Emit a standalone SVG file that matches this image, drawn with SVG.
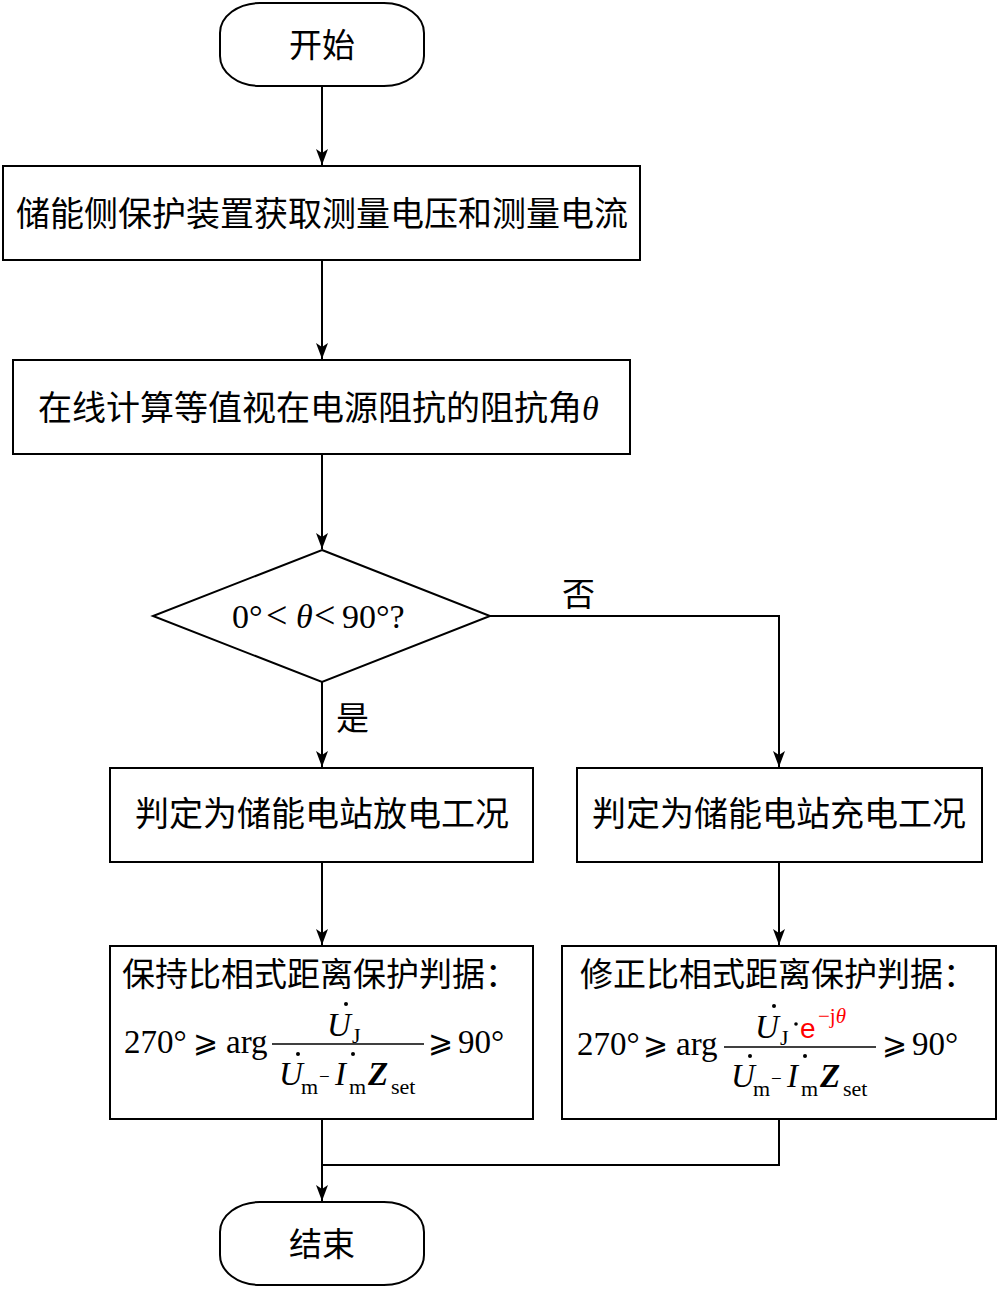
<svg xmlns="http://www.w3.org/2000/svg" width="1001" height="1289" viewBox="0 0 1001 1289">
<style>
.box{fill:#fff;stroke:#000;stroke-width:2}
.cn{font-family:"Noto Sans CJK SC","Noto Sans",sans-serif;font-size:34px;fill:#000}
.cn33{font-family:"Noto Sans CJK SC","Noto Sans",sans-serif;font-size:33px;fill:#000}
.m{font-family:"Liberation Serif","Times New Roman",serif;font-size:33px;fill:#000}
.v{font-size:33px}
.sub{font-size:22px}
.mi{font-size:19px}
.it{font-style:italic}
.bi{font-style:italic;font-weight:bold}
.ge{font-family:"DejaVu Sans",sans-serif;font-size:30px;fill:#000}
.line{fill:none;stroke:#000;stroke-width:2}
.red{fill:#FF0000}
.dot{fill:#000}
</style>
<defs>
<marker id="arr" markerUnits="userSpaceOnUse" viewBox="0 0 16 12" refX="16" refY="6" markerWidth="16" markerHeight="12" orient="auto">
<path d="M0,0 L16,6 L0,12 L4,6 z" fill="#000"/>
</marker>
</defs>
<g id="connectors">
<line class="line" x1="322" y1="86" x2="322" y2="165" marker-end="url(#arr)"/>
<line class="line" x1="322" y1="260" x2="322" y2="359" marker-end="url(#arr)"/>
<line class="line" x1="322" y1="454" x2="322" y2="549" marker-end="url(#arr)"/>
<line class="line" x1="322" y1="682" x2="322" y2="767" marker-end="url(#arr)"/>
<polyline class="line" points="490,616 779,616 779,767" marker-end="url(#arr)"/>
<line class="line" x1="322" y1="862" x2="322" y2="945" marker-end="url(#arr)"/>
<line class="line" x1="779" y1="862" x2="779" y2="945" marker-end="url(#arr)"/>
<line class="line" x1="322" y1="1119" x2="322" y2="1201" marker-end="url(#arr)"/>
<polyline class="line" points="779,1119 779,1165 322,1165"/>
<text class="cn33" x="562" y="606">否</text>
<text class="cn33" x="336" y="730">是</text>
</g>
<g id="start">
<rect class="box" x="220" y="3" width="204" height="83" rx="40" ry="30"/>
<text class="cn33" x="322" y="57" text-anchor="middle">开始</text>
</g>
<g id="step1">
<rect class="box" x="3" y="166" width="637" height="94"/>
<text class="cn" x="322" y="226" text-anchor="middle">储能侧保护装置获取测量电压和测量电流</text>
</g>
<g id="step2">
<rect class="box" x="13" y="360" width="617" height="94"/>
<text class="cn" x="38" y="420">在线计算等值视在电源阻抗的阻抗角<tspan class="m it" style="font-size:34px">θ</tspan></text>
</g>
<g id="decision">
<polygon class="box" points="322,550 490,616 322,682 153,616"/>
<text class="m" y="628" style="font-size:34px"><tspan x="232">0°</tspan><tspan x="266" style="font-size:38px">&lt;</tspan><tspan x="296" class="it">θ</tspan><tspan x="314" style="font-size:38px">&lt;</tspan><tspan x="342">90°?</tspan></text>
</g>
<g id="discharge">
<rect class="box" x="110" y="768" width="423" height="94"/>
<text class="cn" x="322" y="826" text-anchor="middle">判定为储能电站放电工况</text>
</g>
<g id="charge">
<rect class="box" x="577" y="768" width="405" height="94"/>
<text class="cn" x="779" y="826" text-anchor="middle">判定为储能电站充电工况</text>
</g>
<g id="keep">
<rect class="box" x="110" y="946" width="423" height="173"/>
<text class="cn33" x="122" y="986">保持比相式距离保护判据：</text>
<text class="m" x="124" y="1053">270°</text>
<text class="ge" x="193" y="1052">⩾</text>
<text class="m" x="226" y="1053">arg</text>
<line x1="272" y1="1044" x2="424" y2="1044" stroke="#000" stroke-width="1.5"/>
<text class="m it v" x="327" y="1036">U</text>
<text class="m sub" x="352" y="1043">J</text>
<circle class="dot" cx="346" cy="1004" r="2"/>
<text class="m it v" x="279" y="1085">U</text>
<circle class="dot" cx="298" cy="1054" r="2"/>
<text class="m sub" x="301" y="1094">m</text>
<text class="m mi" x="319" y="1083">−</text>
<text class="m it v" x="335" y="1085">I</text>
<circle class="dot" cx="353" cy="1054" r="2"/>
<text class="m sub" x="349" y="1094">m</text>
<text class="m bi v" x="368" y="1085">Z</text>
<text class="m sub" x="391" y="1094">set</text>
<text class="ge" x="428" y="1052">⩾</text>
<text class="m" x="458" y="1053">90°</text>
</g>
<g id="modify">
<rect class="box" x="562" y="946" width="434" height="173"/>
<text class="cn33" x="580" y="986">修正比相式距离保护判据：</text>
<text class="m" x="577" y="1055">270°</text>
<text class="ge" x="643" y="1054">⩾</text>
<text class="m" x="676" y="1055">arg</text>
<line x1="724" y1="1047" x2="876" y2="1047" stroke="#000" stroke-width="1.5"/>
<text class="m it v" x="755" y="1038">U</text>
<text class="m sub" x="780" y="1045">J</text>
<circle class="dot" cx="774" cy="1006" r="2"/>
<circle class="dot" cx="796" cy="1024" r="1.8"/>
<text class="red" x="800" y="1038" style="font-family:'Liberation Sans',Arial,sans-serif;font-size:28px">e</text>
<text class="red" x="818" y="1023" style="font-family:'Liberation Serif',serif;font-size:21px">−j<tspan font-style="italic">θ</tspan></text>
<text class="m it v" x="731" y="1087">U</text>
<circle class="dot" cx="750" cy="1056" r="2"/>
<text class="m sub" x="753" y="1096">m</text>
<text class="m mi" x="771" y="1085">−</text>
<text class="m it v" x="787" y="1087">I</text>
<circle class="dot" cx="805" cy="1056" r="2"/>
<text class="m sub" x="801" y="1096">m</text>
<text class="m bi v" x="820" y="1087">Z</text>
<text class="m sub" x="843" y="1096">set</text>
<text class="ge" x="882" y="1054">⩾</text>
<text class="m" x="912" y="1055">90°</text>
</g>
<g id="end">
<rect class="box" x="220" y="1202" width="204" height="83" rx="40" ry="30"/>
<text class="cn33" x="322" y="1256" text-anchor="middle">结束</text>
</g>
</svg>
